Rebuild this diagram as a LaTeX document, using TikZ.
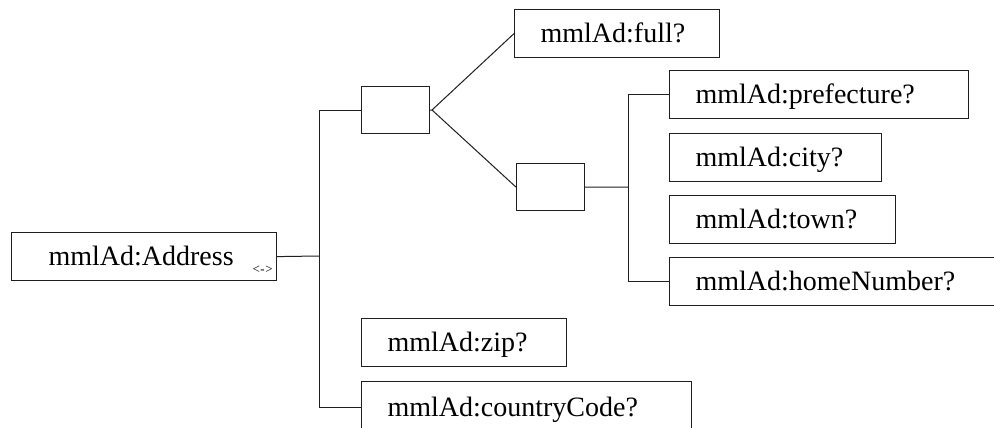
\documentclass[tikz,border=0pt]{standalone}
\usepackage{fontspec}
\setmainfont{Liberation Serif}
\newcommand\bxtext[3][26pt]{\makebox[#2][l]{\hspace{#1}#3}}
\begin{document}
\begin{tikzpicture}[x=1pt,y=-1pt,
  box/.style={draw=black!88, line width=1.2pt, anchor=north west, inner xsep=0pt, inner ysep=0pt,
    minimum height=48pt, font=\fontsize{28}{30}\selectfont, text height=18.6pt, text depth=0pt},
  conn/.style={draw=black!88, line width=1pt}]
\clip (0,0) rectangle (994,428);
\fill[white] (0,0) rectangle (994,428);
% nodes
\node[box] (addr) at (11,232) {\makebox[265pt][l]{\hspace{37pt}mmlAd:Address\hfill\raisebox{-8pt}{\fontsize{13}{13}\selectfont <\kern0.5pt-\kern0.5pt>}\hspace{4pt}}};
\node[box, minimum width=68pt, minimum height=47pt] (seq) at (361,86) {};
\node[box] (full) at (514,9) {\bxtext{205pt}{mmlAd:full?}};
\node[box, minimum width=68pt, minimum height=47pt] (grp) at (516,163) {};
\node[box] (pref) at (669,70) {\bxtext{299pt}{mmlAd:prefecture?}};
\node[box] (city) at (669,133) {\bxtext{212pt}{mmlAd:city?}};
\node[box] (town) at (669,195) {\bxtext{226pt}{mmlAd:town?}};
\node[box] (home) at (669,257) {\bxtext{340pt}{mmlAd:homeNumber?}};
\node[box] (zip) at (361,318) {\bxtext{205pt}{mmlAd:zip?}};
\node[box, minimum height=52pt] (cc) at (361,381) {\bxtext{330pt}{mmlAd:countryCode?}};
% junction coordinates
\coordinate (t1) at (319,256);
\coordinate (t2) at (628,187);
\coordinate (fork) at (432,110);
% connectors
\draw[conn] (addr.east) -- (t1);
\draw[conn] (seq.west) -- (seq.west -| t1) -- (cc.west -| t1) -- (cc.west);
\draw[conn] (seq.east) -- (fork);
\draw[conn] (fork) -- (full.west);
\draw[conn] (fork) -- (grp.west);
\draw[conn] (grp.east) -- (t2);
\draw[conn] (pref.west) -- (pref.west -| t2) -- (home.west -| t2) -- (home.west);
\end{tikzpicture}
\end{document}
